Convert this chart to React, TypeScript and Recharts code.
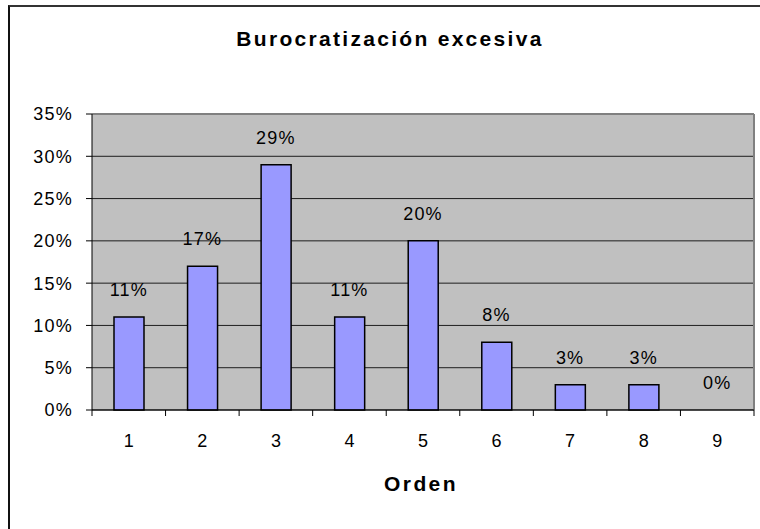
import React from "react";
import { ComposedChart, Bar, Line, XAxis, YAxis, CartesianGrid, LabelList, ReferenceLine } from "recharts";

const categories = [1, 2, 3, 4, 5, 6, 7, 8, 9];
const values = [0.11, 0.17, 0.29, 0.11, 0.2, 0.08, 0.03, 0.03, 0];
const yTicks = [0, 0.05, 0.1, 0.15, 0.2, 0.25, 0.3, 0.35];
const xTicks = [0.5, 1, 1.5, 2, 2.5, 3, 3.5, 4, 4.5, 5, 5.5, 6, 6.5, 7, 7.5, 8, 8.5, 9, 9.5];
const title = "Burocratización excesiva";
const xTitle = "Orden";

const data = categories.map((c, i) => ({ orden: c, value: values[i] }));

const FONT = "'Liberation Sans', Arial, sans-serif";

const pct = (v: number) => `${Math.round(v * 100)}%`;

const XTick = (props: any) => {
  const { x, y, payload } = props;
  const v = payload.value;
  if (Number.isInteger(v)) {
    return (
      <text x={x} y={y + 37} textAnchor="middle" fontSize={18} fontFamily={FONT} fill="#000">
        {v}
      </text>
    );
  }
  return <line x1={x} x2={x} y1={y} y2={y + 6} stroke="#000" strokeWidth={1} />;
};

export default function App() {
  return (
    <div style={{ position: "absolute", left: 0, top: 0, width: 760, height: 529, background: "#fff", overflow: "hidden" }}>
      <div
        style={{
          position: "absolute",
          left: 8,
          top: 5,
          width: 800,
          height: 600,
          borderTop: "2px solid #333",
          borderLeft: "2px solid #111",
          boxSizing: "border-box",
        }}
      />
      <div
        style={{
          position: "absolute",
          left: 0,
          width: 780,
          top: 25,
          textAlign: "center",
          fontFamily: FONT,
          fontWeight: "bold",
          fontSize: 21,
          letterSpacing: 2.3,
          lineHeight: "28px",
        }}
      >
        {title}
      </div>
      <div
        style={{
          position: "absolute",
          left: 90,
          width: 662,
          top: 470,
          textAlign: "center",
          fontFamily: FONT,
          fontWeight: "bold",
          fontSize: 21,
          letterSpacing: 2.4,
          lineHeight: "28px",
        }}
      >
        {xTitle}
      </div>
      <div style={{ position: "absolute", left: 0, top: 0 }}>
        <ComposedChart width={760} height={529} data={data} margin={{ top: 114, right: 6, bottom: 0, left: 32 }}>
          <CartesianGrid fill="#C0C0C0" stroke="#000" strokeOpacity={0.85} vertical={false} />
          <XAxis
            dataKey="orden"
            type="number"
            domain={[0.5, 9.5]}
            ticks={xTicks}
            interval={0}
            tickSize={0}
            tickMargin={0}
            tickLine={false}
            tick={<XTick />}
            axisLine={{ stroke: "#000" }}
            height={119}
          />
          <YAxis
            domain={[0, 0.35]}
            ticks={yTicks}
            width={60}
            tickFormatter={pct}
            tickSize={6}
            tickMargin={13}
            tick={{ fontSize: 18, fontFamily: FONT, fill: "#000", letterSpacing: 1.2 }}
            tickLine={{ stroke: "#000" }}
            axisLine={{ stroke: "#000" }}
            interval={0}
          />
          <ReferenceLine y={0.35} stroke="#808080" strokeWidth={2} />
          <ReferenceLine x={9.5} stroke="#808080" strokeWidth={2} />
          <Bar dataKey="value" fill="#9999FF" stroke="#000" strokeWidth={1.5} barSize={30} isAnimationActive={false} />
          <Line dataKey="value" stroke="none" dot={false} activeDot={false} isAnimationActive={false}>
            <LabelList
              dataKey="value"
              position="top"
              offset={21}
              formatter={(v: any) => pct(Number(v))}
              style={{ fontSize: 18, fontFamily: FONT, fill: "#000", letterSpacing: 1.2 }}
            />
          </Line>
        </ComposedChart>
      </div>
    </div>
  );
}
